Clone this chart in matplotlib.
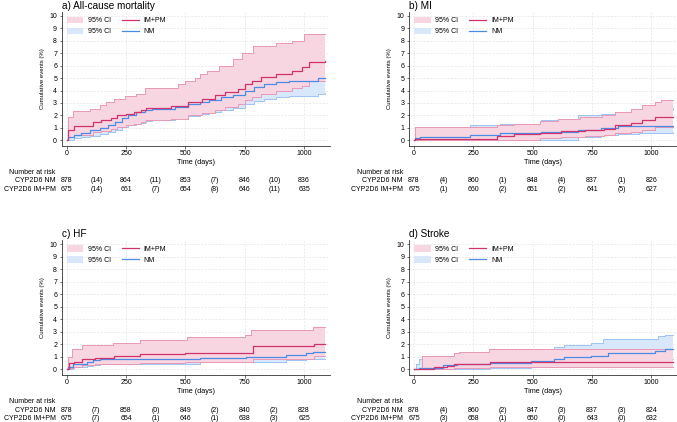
import matplotlib
matplotlib.use("Agg")
import matplotlib.pyplot as plt
import numpy as np
from matplotlib.patches import Patch
from matplotlib.lines import Line2D
from matplotlib.transforms import blended_transform_factory

plt.rcParams['font.family'] = ['Liberation Sans', 'DejaVu Sans']

# ---- a) All-cause mortality ----
a_im_t = [0, 5, 30, 110, 145, 185, 210, 250, 285, 315, 335, 440, 510, 570, 625, 665, 720, 750, 780, 820, 880, 950, 990, 1020, 1090]
a_im = [0, 0.85, 1.15, 1.45, 1.6, 1.8, 2.0, 2.15, 2.3, 2.4, 2.6, 2.75, 3.05, 3.35, 3.6, 3.85, 4.15, 4.5, 4.8, 5.05, 5.35, 5.6, 5.85, 6.3, 6.35]
a_im_lo = [0, 0.3, 0.45, 0.65, 0.75, 0.9, 1.05, 1.2, 1.35, 1.45, 1.6, 1.7, 2.0, 2.2, 2.45, 2.65, 2.95, 3.25, 3.5, 3.7, 4.0, 4.2, 4.4, 4.8, 4.8]
a_im_hi_t = [0, 5, 25, 100, 140, 165, 200, 245, 290, 330, 470, 500, 540, 560, 590, 640, 700, 740, 785, 880, 950, 1000, 1090]
a_im_hi = [0, 1.9, 2.35, 2.55, 2.8, 3.05, 3.35, 3.55, 3.7, 4.2, 4.5, 4.8, 5.0, 5.3, 5.6, 6.0, 6.5, 7.0, 7.6, 7.85, 8.0, 8.5, 8.5]
a_nm_t = [0, 5, 30, 60, 100, 140, 175, 205, 235, 260, 290, 330, 360, 455, 510, 560, 600, 650, 700, 750, 790, 830, 880, 935, 1060, 1090]
a_nm = [0, 0.3, 0.45, 0.6, 0.8, 1.0, 1.25, 1.5, 1.8, 2.05, 2.25, 2.4, 2.55, 2.7, 2.9, 3.1, 3.2, 3.45, 3.65, 4.0, 4.3, 4.55, 4.7, 4.8, 5.0, 5.0]
a_nm_lo = [0, 0.05, 0.15, 0.25, 0.35, 0.5, 0.65, 0.85, 1.05, 1.25, 1.4, 1.55, 1.65, 1.8, 1.95, 2.15, 2.25, 2.45, 2.6, 2.9, 3.15, 3.35, 3.5, 3.55, 3.75, 3.8]
a_nm_hi = [0, 0.6, 0.85, 1.0, 1.2, 1.5, 1.8, 2.1, 2.5, 2.8, 3.05, 3.2, 3.4, 3.55, 3.8, 4.05, 4.15, 4.45, 4.7, 5.1, 5.45, 5.75, 5.9, 6.0, 6.25, 6.25]
a_nm_risk = ["878", "(14)", "864", "(11)", "853", "(7)", "846", "(10)", "836"]
a_im_risk = ["675", "(14)", "661", "(7)", "654", "(8)", "646", "(11)", "635"]

# ---- b) MI ----
b_im_t = [0, 5, 350, 420, 530, 620, 720, 800, 845, 915, 960, 1015, 1090]
b_im = [0, 0.1, 0.35, 0.5, 0.6, 0.75, 0.85, 0.95, 1.2, 1.4, 1.6, 1.85, 1.85]
b_im_lo = [0, 0.0, 0.0, 0.05, 0.15, 0.25, 0.35, 0.45, 0.55, 0.7, 0.85, 1.05, 1.05]
b_im_hi_t = [0, 5, 350, 420, 530, 605, 700, 790, 845, 915, 960, 1015, 1040, 1090]
b_im_hi = [0, 1.05, 1.25, 1.35, 1.55, 1.75, 1.85, 2.0, 2.3, 2.55, 2.85, 3.1, 3.25, 3.25]
b_nm_t = [0, 5, 25, 237, 364, 534, 689, 788, 859, 950, 1090]
b_nm = [0, 0.15, 0.3, 0.43, 0.56, 0.7, 0.83, 1.0, 1.13, 1.13, 1.13]
b_nm_lo = [0, 0.0, 0.0, 0.0, 0.02, 0.05, 0.25, 0.4, 0.5, 0.6, 0.65]
b_nm_hi = [0, 0.6, 0.85, 1.2, 1.35, 1.6, 2.0, 2.15, 2.3, 2.45, 2.6]
b_nm_risk = ["878", "(4)", "860", "(1)", "848", "(4)", "837", "(1)", "826"]
b_im_risk = ["675", "(1)", "660", "(2)", "651", "(2)", "641", "(5)", "627"]

# ---- c) HF ----
c_im_t = [0, 10, 30, 65, 120, 200, 310, 500, 785, 1040, 1090]
c_im = [0, 0.5, 0.6, 0.85, 0.9, 1.05, 1.2, 1.3, 1.85, 2.0, 2.0]
c_im_lo = [0, 0.1, 0.2, 0.35, 0.4, 0.45, 0.5, 0.6, 0.85, 1.1, 1.1]
c_im_hi_t = [0, 5, 21, 63, 196, 309, 505, 750, 778, 1038, 1090]
c_im_hi = [0, 1.0, 1.6, 1.95, 2.1, 2.35, 2.55, 2.75, 3.15, 3.35, 3.35]
c_nm_t = [0, 7, 28, 84, 112, 140, 561, 757, 926, 1010, 1038, 1090]
c_nm = [0, 0.2, 0.45, 0.6, 0.75, 0.8, 0.93, 1.0, 1.14, 1.27, 1.4, 1.4]
c_nm_lo = [0, 0.05, 0.2, 0.3, 0.38, 0.42, 0.55, 0.6, 0.72, 0.8, 0.85, 0.85]
c_nm_hi = [0, 0.5, 0.95, 1.1, 1.25, 1.3, 1.45, 1.6, 1.75, 1.9, 2.05, 2.05]
c_nm_risk = ["878", "(7)", "858", "(0)", "849", "(2)", "840", "(2)", "828"]
c_im_risk = ["675", "(7)", "654", "(1)", "646", "(1)", "638", "(3)", "625"]

# ---- d) Stroke ----
d_im_t = [0, 85, 140, 170, 320, 1090]
d_im = [0, 0.15, 0.3, 0.45, 0.6, 0.6]
d_im_lo = [0, 0.0, 0.02, 0.08, 0.22, 0.22]
d_im_hi_t = [0, 35, 167, 188, 315, 1090]
d_im_hi = [0, 1.05, 1.27, 1.4, 1.6, 1.6]
d_nm_t = [0, 10, 20, 40, 123, 180, 322, 491, 590, 633, 746, 795, 816, 1014, 1029, 1057, 1090]
d_nm = [0, 0.05, 0.08, 0.1, 0.35, 0.45, 0.5, 0.7, 0.85, 0.95, 1.1, 1.1, 1.3, 1.45, 1.45, 1.6, 1.6]
d_nm_lo = [0, 0.0, 0.0, 0.0, 0.02, 0.05, 0.1, 0.2, 0.25, 0.3, 0.4, 0.4, 0.5, 0.7, 0.7, 0.85, 0.85]
d_nm_hi = [0, 0.4, 0.8, 0.85, 1.0, 1.1, 1.2, 1.5, 1.75, 1.95, 2.1, 2.45, 2.45, 2.45, 2.65, 2.75, 2.75]
d_nm_risk = ["878", "(4)", "860", "(2)", "847", "(3)", "837", "(3)", "824"]
d_im_risk = ["675", "(3)", "658", "(1)", "650", "(0)", "643", "(0)", "632"]

risk_days = [0, 125, 250, 375, 500, 625, 750, 875, 1000]

RED = "#d0336b"
BLUE = "#4a8be6"
PINK_FILL = "#f8d6e1"
BLUE_FILL = "#d8e7fa"
PINK_EDGE = "#e899b6"
BLUE_EDGE = "#9cc4f2"


def step_at(t, v, grid):
    idx = np.searchsorted(t, grid, side="right") - 1
    return np.asarray(v)[idx]


def band(ax, lo_t, lo, hi_t, hi, fill, edge, z):
    grid = np.union1d(lo_t, hi_t)
    ax.fill_between(grid, step_at(lo_t, lo, grid), step_at(hi_t, hi, grid),
                    step="post", color=fill, lw=0, zorder=z)
    ax.step(lo_t, lo, where="post", color=edge, lw=0.7, zorder=z + 0.1)
    ax.step(hi_t, hi, where="post", color=edge, lw=0.7, zorder=z + 0.1)


def panel(ax, title, im_t, im, im_lo, im_hi_t, im_hi, nm_t, nm, nm_lo, nm_hi,
          nm_risk, im_risk):
    band(ax, nm_t, nm_lo, nm_t, nm_hi, BLUE_FILL, BLUE_EDGE, 1)
    band(ax, im_t, im_lo, im_hi_t, im_hi, PINK_FILL, PINK_EDGE, 2)
    ax.step(nm_t, nm, where="post", color=BLUE, lw=0.9, zorder=3)
    ax.step(im_t, im, where="post", color=RED, lw=0.9, zorder=3.5)

    ax.set_xlim(-21, 1108)
    ax.set_ylim(-0.43, 10.3)
    ax.set_xticks([0, 250, 500, 750, 1000])
    ax.set_yticks(range(0, 11))
    ax.grid(True, color="#e4e4e4", ls=(0, (3, 2)), lw=0.5)
    ax.set_axisbelow(True)
    for s in ["top", "right"]:
        ax.spines[s].set_visible(False)
    for s in ["left", "bottom"]:
        ax.spines[s].set_linewidth(0.6)
        ax.spines[s].set_color("#333333")
    ax.tick_params(labelsize=5, length=1.8, width=0.5, pad=1.5, color="#333333")
    ax.set_xlabel("Time (days)", fontsize=5.2, labelpad=1)
    ax.set_ylabel("Cumulative events (%)", fontsize=4.3, labelpad=3)
    ax.set_title(title, loc="left", fontsize=7.2, pad=2.5)

    handles = [Patch(facecolor=PINK_FILL, edgecolor="none"),
               Patch(facecolor=BLUE_FILL, edgecolor="none"),
               Line2D([], [], color=RED, lw=0.9),
               Line2D([], [], color=BLUE, lw=0.9)]
    ax.legend(handles, ["95% CI", "95% CI", "IM+PM", "NM"], ncol=2,
              loc="upper left", bbox_to_anchor=(0, 1), borderaxespad=0,
              borderpad=0.7, frameon=False, fontsize=5, handlelength=2.4,
              handleheight=1.0, handletextpad=0.7, columnspacing=1.6,
              labelspacing=0.5)

    tr = blended_transform_factory(ax.transData, ax.transAxes)
    lx = -6 / 268
    ax.text(lx, -0.202, "Number at risk", transform=ax.transAxes, ha="right",
            va="center", fontsize=5)
    ax.text(lx, -0.264, "CYP2D6 NM", transform=ax.transAxes, ha="right",
            va="center", fontsize=5)
    ax.text(lx, -0.326, "CYP2D6 IM+PM", transform=ax.transAxes, ha="right",
            va="center", fontsize=5)
    for d, n1, n2 in zip(risk_days, nm_risk, im_risk):
        ax.text(d, -0.264, n1, transform=tr, ha="center", va="center", fontsize=5)
        ax.text(d, -0.326, n2, transform=tr, ha="center", va="center", fontsize=5)


W, H = 677, 422
fig = plt.figure(figsize=(W / 100, H / 100), dpi=100)


def add_axes(left, top, width=268, height=133.7):
    return fig.add_axes([left / W, 1 - (top + height) / H, width / W, height / H])


ax_a = add_axes(61.7, 12)
ax_b = add_axes(409, 12)
ax_c = add_axes(61.7, 240.5, height=134.2)
ax_d = add_axes(409, 240.5, height=134.2)

panel(ax_a, "a) All-cause mortality", a_im_t, a_im, a_im_lo, a_im_hi_t, a_im_hi,
      a_nm_t, a_nm, a_nm_lo, a_nm_hi, a_nm_risk, a_im_risk)
panel(ax_b, "b) MI", b_im_t, b_im, b_im_lo, b_im_hi_t, b_im_hi,
      b_nm_t, b_nm, b_nm_lo, b_nm_hi, b_nm_risk, b_im_risk)
panel(ax_c, "c) HF", c_im_t, c_im, c_im_lo, c_im_hi_t, c_im_hi,
      c_nm_t, c_nm, c_nm_lo, c_nm_hi, c_nm_risk, c_im_risk)
panel(ax_d, "d) Stroke", d_im_t, d_im, d_im_lo, d_im_hi_t, d_im_hi,
      d_nm_t, d_nm, d_nm_lo, d_nm_hi, d_nm_risk, d_im_risk)

fig.savefig("out.png", dpi=100)
